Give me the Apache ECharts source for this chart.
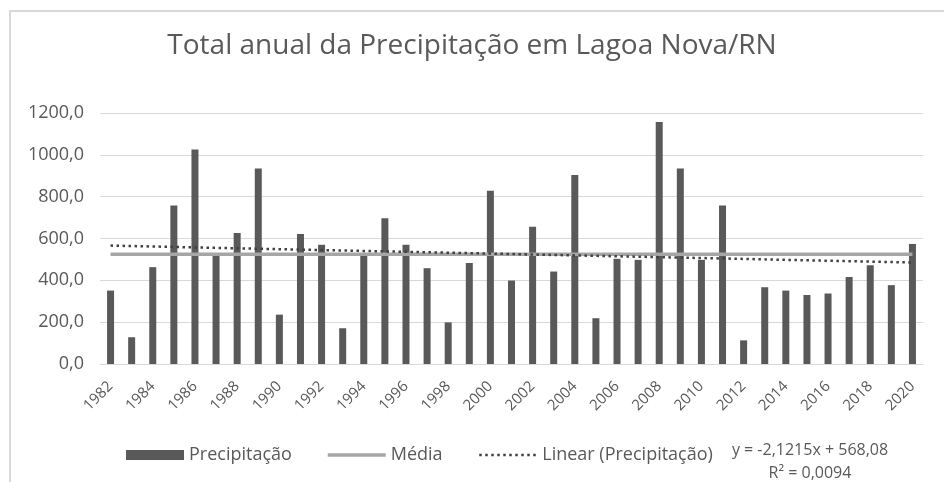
<!DOCTYPE html>
<html>
<head>
<meta charset="utf-8">
<script src="https://cdn.jsdelivr.net/npm/echarts@6/dist/echarts.min.js"></script>
<style>
  html, body { margin: 0; padding: 0; background: #fff; }
  #chart { width: 944px; height: 482px; }
</style>
</head>
<body>
<div id="chart"></div>
<script>
// anos (categorias)
let years = ['1982','1983','1984','1985','1986','1987','1988','1989','1990','1991',
             '1992','1993','1994','1995','1996','1997','1998','1999','2000','2001',
             '2002','2003','2004','2005','2006','2007','2008','2009','2010','2011',
             '2012','2013','2014','2015','2016','2017','2018','2019','2020'];

// precipitação total anual (mm)
let precipitacao = [351, 128, 463, 758, 1026, 517, 626, 935, 236, 621,
                    570, 171, 517, 697, 570, 458, 199, 483, 828, 399,
                    656, 442, 903, 219, 503, 498, 1157, 935, 498, 758,
                    113, 367, 351, 330, 337, 416, 472, 377, 574];

// média do período
let mediaValor = 524.6;

// linha de tendência: valor no primeiro e no último ano
let tendenciaInicio = 566.0;
let tendenciaFim = 485.3;

let equacao = ['y = -2,1215x + 568,08', 'R\u00B2 = 0,0094'];

let yTicks = [0, 200, 400, 600, 800, 1000, 1200];

function legendItem(name, left, icon, lineStyle){
    let item = { name: name };
    if(icon){
        item.icon = icon;
    } else {
        // esconde o símbolo do meio, deixa só a linha
        item.itemStyle = { opacity: 0 };
        item.lineStyle = lineStyle;
    }
    return {
        left: left,
        top: 446,
        itemWidth: 58,
        itemHeight: 10,
        itemGap: 0,
        padding: 0,
        itemStyle: { borderWidth: 0 },
        textStyle: {
            fontFamily: '"Open Sans", "Noto Sans", sans-serif',
            fontSize: 18,
            color: '#595959'
        },
        data: [item]
    };
}

function setChart(){
    let myChart = echarts.init(document.getElementById('chart'));

    let media = [];
    let tendencia = [];
    for(let i = 0;i<years.length;i++){
        media.push(mediaValor);
        if(i == 0){
            tendencia.push(tendenciaInicio);
        } else if(i == years.length - 1){
            tendencia.push(tendenciaFim);
        } else {
            tendencia.push(null);
        }
    }

    let textColor = '#595959';
    let font = '"Open Sans", "Noto Sans", sans-serif';
    let mediaLine = { color: '#a6a6a6', width: 3.5 };
    let trendLine = { color: '#404040', width: 2.5, type: [2.5, 3.5] };

    let option = {
        animation: false,
        backgroundColor: '#fff',
        title: {
            text: 'Total anual da Precipitação em Lagoa Nova/RN',
            left: 'center',
            top: 27,
            textStyle: {
                fontFamily: font,
                fontSize: 28,
                fontWeight: 'normal',
                color: textColor
            }
        },
        legend: [
            legendItem('Precipitação', 126, 'rect'),
            legendItem('Média', 326, null, mediaLine),
            legendItem('Linear (Precipitação)', 478, null, trendLine)
        ],
        grid: {
            left: 100,
            right: 21,
            top: 113,
            bottom: 118
        },
        xAxis: {
            type: 'category',
            data: years,
            axisTick: { show: false },
            axisLine: { lineStyle: { color: '#d9d9d9', width: 1 } },
            axisLabel: {
                interval: 1,
                rotate: 45,
                margin: 20,
                fontFamily: font,
                fontSize: 15,
                color: textColor
            }
        },
        yAxis: {
            type: 'value',
            min: yTicks[0],
            max: yTicks[yTicks.length - 1],
            interval: 200,
            axisLine: { show: false },
            axisTick: { show: false },
            splitLine: { lineStyle: { color: '#d9d9d9', width: 1 } },
            axisLabel: {
                margin: 16,
                fontFamily: font,
                fontSize: 18,
                color: textColor,
                formatter: function (v) {
                    return v.toFixed(1).replace('.', ',');
                }
            }
        },
        series: [{
            name: 'Precipitação',
            type: 'bar',
            barWidth: 7,
            itemStyle: { color: '#595959' },
            data: precipitacao
        },{
            name: 'Média',
            type: 'line',
            symbol: 'none',
            lineStyle: mediaLine,
            itemStyle: { color: '#a6a6a6' },
            data: media
        },{
            name: 'Linear (Precipitação)',
            type: 'line',
            symbol: 'none',
            connectNulls: true,
            lineStyle: trendLine,
            itemStyle: { color: '#404040' },
            data: tendencia
        }],
        graphic: [{
            type: 'rect',
            shape: { x: 10, y: 11, width: 1000, height: 1000 },
            style: { fill: 'none', stroke: '#d9d9d9', lineWidth: 2 },
            silent: true
        },{
            type: 'text',
            x: 810,
            y: 450,
            style: {
                text: equacao[0],
                align: 'center',
                verticalAlign: 'middle',
                fontFamily: font,
                fontSize: 16,
                fill: textColor
            }
        },{
            type: 'text',
            x: 810,
            y: 473,
            style: {
                text: equacao[1],
                align: 'center',
                verticalAlign: 'middle',
                fontFamily: font,
                fontSize: 16,
                fill: textColor
            }
        }]
    };

    myChart.setOption(option);
}

window.onload = function (){
    setChart();
}
</script>
</body>
</html>
